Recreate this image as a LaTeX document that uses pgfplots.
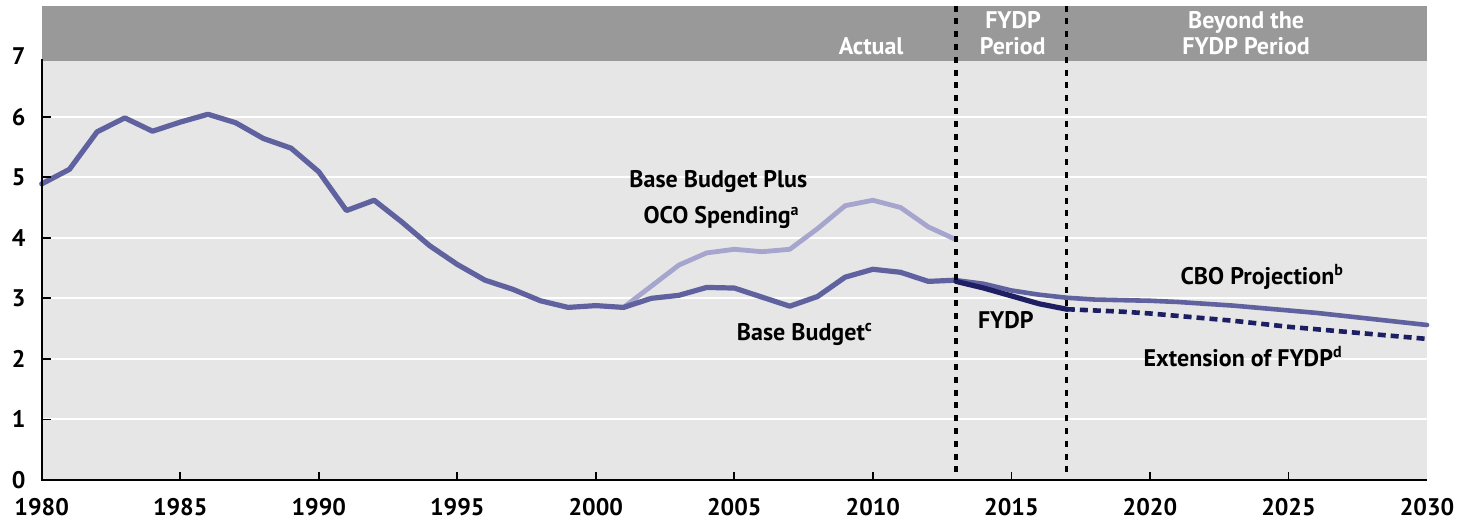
\documentclass[border=0pt]{standalone}
\usepackage{fontspec}
\setmainfont{PT Sans}
\usepackage{pgfplots}
\pgfplotsset{compat=1.18}
\usetikzlibrary{calc}
\definecolor{basec}{RGB}{96,98,160}
\definecolor{ococ}{RGB}{165,165,205}
\definecolor{fydpc}{RGB}{30,30,98}
\definecolor{bgc}{RGB}{230,230,230}
\definecolor{hdrc}{RGB}{153,153,153}
\begin{document}
\begin{tikzpicture}
\begin{axis}[
  scale only axis, width=692.65pt, height=237.15pt,
  xmin=1980, xmax=2030, ymin=0, ymax=7.833,
  axis line style={draw=none},
  xtick={1980,1985,...,2030}, ytick={0,1,...,7},
  major tick length=0pt,
  /pgf/number format/assume math mode=true,
  /pgf/number format/1000 sep={},
  ticklabel style={font=\fontsize{12}{14}\selectfont\bfseries, inner sep=0pt},
  yticklabel style={anchor=east, xshift=-7.85pt},
  xticklabel style={anchor=north, yshift=-9pt},
  clip=false,
  every axis plot/.append style={line join=round, line cap=round},
]
% backgrounds
\fill[bgc] (axis cs:1980,0) rectangle (axis cs:2030,6.95);
\fill[hdrc] (axis cs:1980,6.92) rectangle (axis cs:2030,7.833);
% grid
\draw[white, line width=1pt] (axis cs:1980,1) -- (axis cs:2030,1);
\draw[white, line width=1pt] (axis cs:1980,2) -- (axis cs:2030,2);
\draw[white, line width=1pt] (axis cs:1980,3) -- (axis cs:2030,3);
\draw[white, line width=1pt] (axis cs:1980,4) -- (axis cs:2030,4);
\draw[white, line width=1pt] (axis cs:1980,5) -- (axis cs:2030,5);
\draw[white, line width=1pt] (axis cs:1980,6) -- (axis cs:2030,6);
% OCO
\addplot[ococ, line width=2.4pt] coordinates {
(2001,2.85) (2002,3.20) (2003,3.55) (2004,3.75) (2005,3.81) (2006,3.77)
(2007,3.81) (2008,4.15) (2009,4.53) (2010,4.62) (2011,4.50) (2012,4.18) (2013,3.97)};
% base budget
\addplot[basec, line width=2.6pt] coordinates {
(1980,4.89) (1981,5.13) (1982,5.75) (1983,5.98) (1984,5.76) (1985,5.91)
(1986,6.04) (1987,5.90) (1988,5.64) (1989,5.48) (1990,5.09) (1991,4.45)
(1992,4.62) (1993,4.26) (1994,3.87) (1995,3.56) (1996,3.30) (1997,3.15)
(1998,2.96) (1999,2.85) (2000,2.88) (2001,2.85) (2002,3.00) (2003,3.05)
(2004,3.18) (2005,3.17) (2006,3.02) (2007,2.87) (2008,3.03) (2009,3.35)
(2010,3.48) (2011,3.43) (2012,3.28) (2013,3.30)};
% CBO projection
\addplot[basec, line width=2.3pt] coordinates {
(2013,3.30) (2014,3.24) (2015,3.13) (2016,3.06) (2017,3.01) (2018,2.98)
(2019,2.97) (2020,2.96) (2021,2.94) (2022,2.91) (2023,2.88) (2024,2.84)
(2025,2.80) (2026,2.76) (2027,2.71) (2028,2.66) (2029,2.61) (2030,2.56)};
% FYDP
\addplot[fydpc, line width=2.6pt] coordinates {
(2013,3.28) (2014,3.17) (2015,3.04) (2016,2.91) (2017,2.82)};
% Extension of FYDP
\addplot[fydpc, line width=2.3pt, line cap=butt, dash pattern=on 4pt off 2.5pt] coordinates {
(2017,2.82) (2018,2.80) (2019,2.78) (2020,2.75) (2021,2.71) (2022,2.67)
(2023,2.63) (2024,2.58) (2025,2.53) (2026,2.49) (2027,2.45) (2028,2.41)
(2029,2.37) (2030,2.33)};
% period separators
\draw[black, line width=1.6pt, dash pattern=on 3pt off 3.4pt] (axis cs:2013,7.833) -- (axis cs:2013,0);
\draw[black, line width=1.6pt, dash pattern=on 3pt off 3.4pt] (axis cs:2017,7.833) -- (axis cs:2017,0);
% axis lines and ticks
\draw[black, line width=1pt] (axis cs:1980,6.95) -- (axis cs:1980,0) -- (axis cs:2030,0);
\draw[black, line width=0.9pt] (axis cs:1985,0) -- (axis cs:1985,0.132);
\draw[black, line width=0.9pt] (axis cs:1990,0) -- (axis cs:1990,0.132);
\draw[black, line width=0.9pt] (axis cs:1995,0) -- (axis cs:1995,0.132);
\draw[black, line width=0.9pt] (axis cs:2000,0) -- (axis cs:2000,0.132);
\draw[black, line width=0.9pt] (axis cs:2005,0) -- (axis cs:2005,0.132);
\draw[black, line width=0.9pt] (axis cs:2010,0) -- (axis cs:2010,0.132);
\draw[black, line width=0.9pt] (axis cs:2015,0) -- (axis cs:2015,0.132);
\draw[black, line width=0.9pt] (axis cs:2020,0) -- (axis cs:2020,0.132);
\draw[black, line width=0.9pt] (axis cs:2025,0) -- (axis cs:2025,0.132);
\draw[black, line width=0.9pt] (axis cs:1980,1) -- (axis cs:1980.325,1);
\draw[black, line width=0.9pt] (axis cs:1980,2) -- (axis cs:1980.325,2);
\draw[black, line width=0.9pt] (axis cs:1980,3) -- (axis cs:1980.325,3);
\draw[black, line width=0.9pt] (axis cs:1980,4) -- (axis cs:1980.325,4);
\draw[black, line width=0.9pt] (axis cs:1980,5) -- (axis cs:1980.325,5);
\draw[black, line width=0.9pt] (axis cs:1980,6) -- (axis cs:1980.325,6);
% series labels
\begin{scope}[every node/.style={font=\fontsize{12}{14}\selectfont\bfseries, inner sep=0pt, text=black}]
\node[anchor=base west] at (axis cs:2001.20,4.834) {Base Budget Plus};
\node[anchor=base west] at (axis cs:2001.71,4.228) {OCO Spending\textsuperscript{a}};
\node[anchor=base west] at (axis cs:2005.08,2.312) {Base Budget\textsuperscript{c}};
\node[anchor=base west] at (axis cs:2013.78,2.494) {FYDP};
\node[anchor=base west] at (axis cs:2021.09,3.232) {CBO Projection\textsuperscript{b}};
\node[anchor=base west] at (axis cs:2019.76,1.871) {Extension of FYDP\textsuperscript{d}};
\end{scope}
% header labels
\begin{scope}[every node/.style={font=\fontsize{12}{14}\selectfont\bfseries, inner sep=0pt, text=white}]
\node[anchor=base east] at (axis cs:2011.12,7.035) {Actual};
\node[anchor=base] at (axis cs:2015.06,7.46) {FYDP};
\node[anchor=base] at (axis cs:2015.05,7.025) {Period};
\node[anchor=base] at (axis cs:2023.47,7.46) {Beyond the};
\node[anchor=base] at (axis cs:2023.47,7.03) {FYDP Period};
\end{scope}
\end{axis}
\path ($(current axis.south west)+(-20.85pt,-20pt)$) rectangle ($(current axis.north east)+(15.5pt,2.85pt)$);
\end{tikzpicture}
\end{document}
